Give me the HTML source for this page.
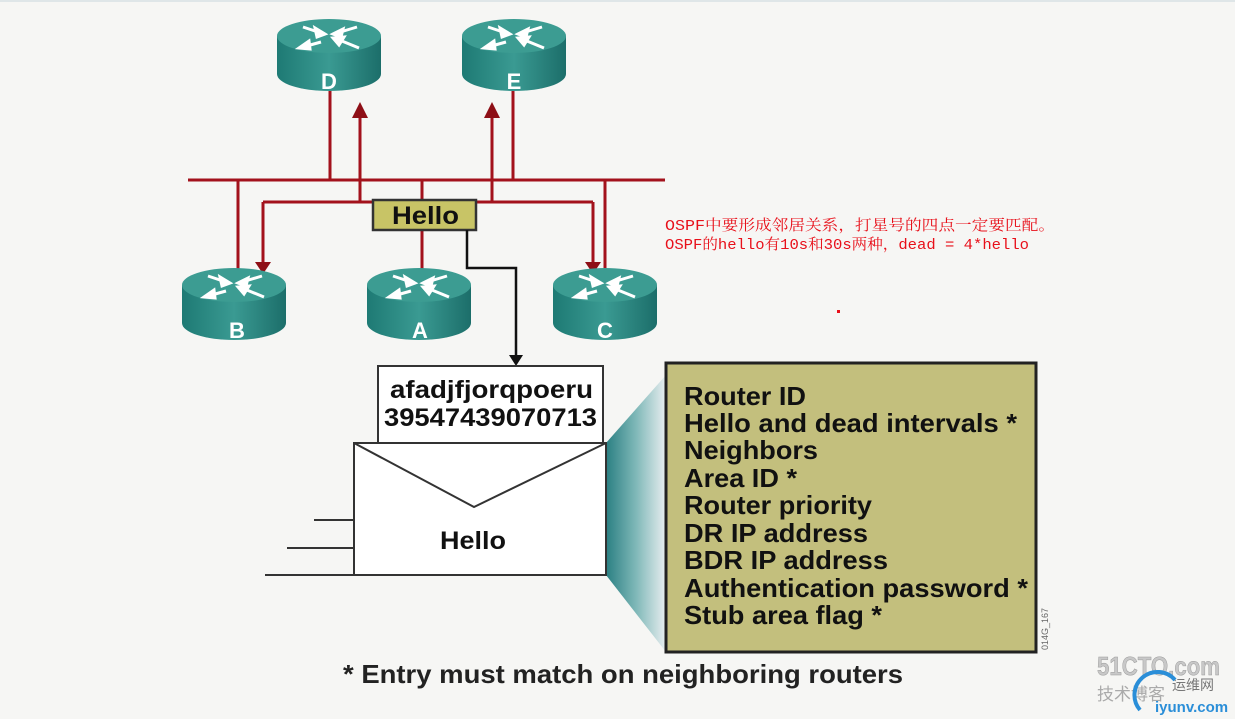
<!DOCTYPE html>
<html><head><meta charset="utf-8"><style>
html,body{margin:0;padding:0;background:#f6f6f4;}
svg{display:block;}
</style></head><body>
<svg width="1235" height="719" viewBox="0 0 1235 719" xmlns="http://www.w3.org/2000/svg" font-family="Liberation Sans, Arial, sans-serif">
<defs>
<linearGradient id="rb" x1="0" x2="1" y1="0" y2="0">
<stop offset="0" stop-color="#1e7a74"/><stop offset="0.5" stop-color="#3a9a92"/><stop offset="1" stop-color="#1c6e6a"/>
</linearGradient>
<linearGradient id="fan" x1="0" x2="1" y1="0" y2="0">
<stop offset="0" stop-color="#2a7f82"/><stop offset="0.5" stop-color="#7fb8b8"/><stop offset="1" stop-color="#e8eef0"/>
</linearGradient>
<g id="rt">
<path d="M0,17 L0,55 A52,17 0 0 0 104,55 L104,17 Z" fill="url(#rb)"/>
<ellipse cx="52" cy="17" rx="52" ry="17" fill="#3c9c92"/>
<g stroke="#fff" stroke-width="3" fill="#fff">
<line x1="26" y1="8" x2="44" y2="14"/><polygon points="48,15 38,9 40,18"/>
<line x1="80" y1="8" x2="60" y2="14"/><polygon points="56,15 66,10 64,18"/>
<line x1="44" y1="23" x2="26" y2="28"/><polygon points="22,29 32,22 33,30"/>
<line x1="60" y1="20" x2="82" y2="29"/><polygon points="56,19 67,18 62,26"/>
</g>
</g>
</defs>
<rect x="0" y="0" width="1235" height="2" fill="#dfe6e8"/>
<g stroke="#a3121c" stroke-width="3" fill="none">
<line x1="188" y1="180" x2="665" y2="180"/>
<line x1="330" y1="90" x2="330" y2="180"/>
<line x1="513" y1="90" x2="513" y2="180"/>
<line x1="238" y1="180" x2="238" y2="270"/>
<line x1="605" y1="180" x2="605" y2="270"/>
<line x1="422" y1="180" x2="422" y2="200"/>
<line x1="422" y1="230" x2="422" y2="270"/>
<line x1="360" y1="202" x2="360" y2="115"/>
<line x1="492" y1="202" x2="492" y2="115"/>
<line x1="263" y1="202" x2="593" y2="202"/>
<line x1="263" y1="202" x2="263" y2="262"/>
<line x1="593" y1="202" x2="593" y2="262"/>
</g>
<g fill="#8e0f16">
<polygon points="352,118 368,118 360,102"/>
<polygon points="484,118 500,118 492,102"/>
<polygon points="255,262 271,262 263,274"/>
<polygon points="585,262 601,262 593,274"/>
</g>
<use href="#rt" x="277" y="19"/>
<use href="#rt" x="462" y="19"/>
<use href="#rt" x="182" y="268"/>
<use href="#rt" x="367" y="268"/>
<use href="#rt" x="553" y="268"/>
<g fill="#fff" font-weight="bold" font-size="22" text-anchor="middle">
<text x="329" y="89">D</text><text x="514" y="89">E</text>
<text x="237" y="338">B</text><text x="420" y="338">A</text><text x="605" y="338">C</text>
</g>
<rect x="373" y="200" width="103" height="30" fill="#c8c466" stroke="#333" stroke-width="2.5"/>
<text x="392" y="224" font-size="25" font-weight="bold" fill="#111" textLength="67" lengthAdjust="spacingAndGlyphs">Hello</text>
<polyline points="467,230 467,268 516,268 516,358" fill="none" stroke="#111" stroke-width="2.5"/>
<polygon points="509,355 523,355 516,366" fill="#111"/>
<rect x="378" y="366" width="225" height="77" fill="#fff" stroke="#333" stroke-width="2"/>
<text x="390" y="398" font-size="25" font-weight="bold" fill="#111" textLength="203" lengthAdjust="spacingAndGlyphs">afadjfjorqpoeru</text>
<text x="384" y="426" font-size="25" font-weight="bold" fill="#111" textLength="213" lengthAdjust="spacingAndGlyphs">39547439070713</text>
<polygon points="606,443 666,375 666,652 606,575" fill="url(#fan)"/>
<rect x="354" y="443" width="252" height="132" fill="#fff" stroke="#333" stroke-width="2"/>
<polyline points="354,443 474,507 606,443" fill="none" stroke="#333" stroke-width="2"/>
<text x="440" y="549" font-size="25" font-weight="bold" fill="#111" textLength="66" lengthAdjust="spacingAndGlyphs">Hello</text>
<g stroke="#333" stroke-width="2">
<line x1="314" y1="520" x2="354" y2="520"/>
<line x1="287" y1="548" x2="354" y2="548"/>
<line x1="265" y1="575" x2="354" y2="575"/>
</g>
<rect x="666" y="363" width="370" height="289" fill="#c3bf7d" stroke="#222" stroke-width="3"/>
<g font-size="26" font-weight="bold" fill="#111">
<text x="684" y="405" textLength="122" lengthAdjust="spacingAndGlyphs">Router ID</text>
<text x="684" y="432" textLength="333" lengthAdjust="spacingAndGlyphs">Hello and dead intervals *</text>
<text x="684" y="459" textLength="134" lengthAdjust="spacingAndGlyphs">Neighbors</text>
<text x="684" y="487" textLength="113" lengthAdjust="spacingAndGlyphs">Area ID *</text>
<text x="684" y="514" textLength="188" lengthAdjust="spacingAndGlyphs">Router priority</text>
<text x="684" y="542" textLength="184" lengthAdjust="spacingAndGlyphs">DR IP address</text>
<text x="684" y="569" textLength="204" lengthAdjust="spacingAndGlyphs">BDR IP address</text>
<text x="684" y="597" textLength="344" lengthAdjust="spacingAndGlyphs">Authentication password *</text>
<text x="684" y="624" textLength="198" lengthAdjust="spacingAndGlyphs">Stub area flag *</text>
</g>
<text transform="translate(1048,650) rotate(-90)" font-size="9" fill="#666">014G_167</text>
<text x="343" y="683" font-size="26" font-weight="bold" fill="#222" textLength="560" lengthAdjust="spacingAndGlyphs">* Entry must match on neighboring routers</text>
<g font-family="Liberation Mono, Noto Serif CJK SC, monospace" font-size="15" fill="#e8101a">
<text x="665" y="230" textLength="390" lengthAdjust="spacingAndGlyphs">OSPF中要形成邻居关系，打星号的四点一定要匹配。</text>
<text x="665" y="249" textLength="364" lengthAdjust="spacingAndGlyphs">OSPF的hello有10s和30s两种，dead = 4*hello</text>
</g>
<rect x="837" y="310" width="3" height="3" fill="#e8101a"/>
<text x="1097" y="675" font-size="26" font-weight="bold" fill="#c8c8c8" stroke="#999" stroke-width="0.5" textLength="123" lengthAdjust="spacingAndGlyphs">51CTO.com</text>
<text x="1097" y="700" font-size="17" fill="#aaa" font-family="Liberation Sans, Noto Sans CJK SC, sans-serif">技术博客</text>
<text x="1172" y="690" font-size="14" fill="#777" font-family="Liberation Sans, Noto Sans CJK SC, sans-serif">运维网</text>
<path d="M1140,710 A20,20 0 0 1 1175,680" fill="none" stroke="#2a8ed8" stroke-width="4"/>
<text x="1155" y="712" font-size="15" font-weight="bold" fill="#2a8ed8">iyunv.com</text>
</svg>
</body></html>
